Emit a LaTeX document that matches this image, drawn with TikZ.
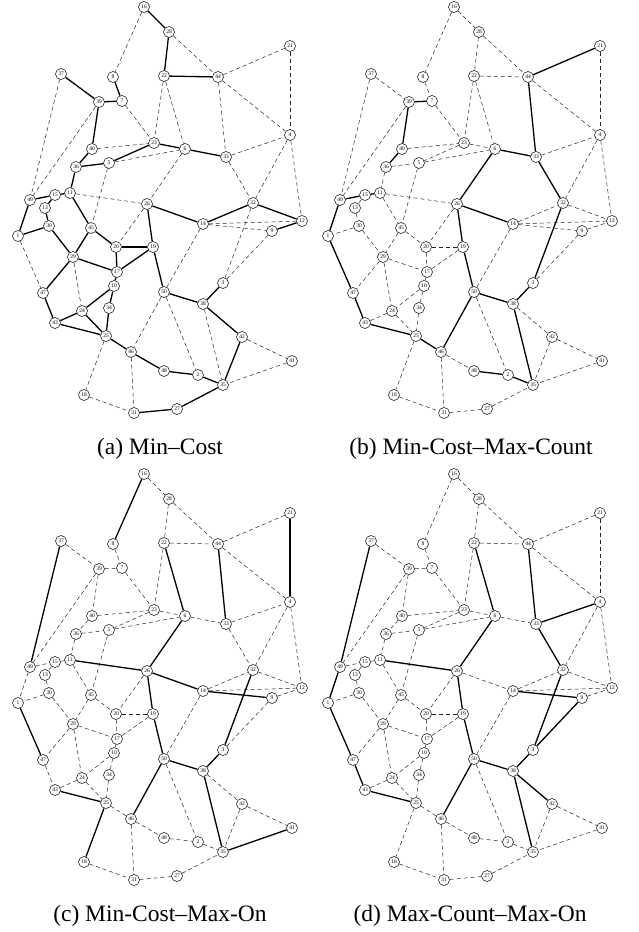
\documentclass[tikz,border=0pt]{standalone}
\usepackage{fontspec}
\setmainfont{Liberation Serif}
\tikzset{
  vtx/.style={circle,draw,line width=0.5pt,minimum size=11pt,inner sep=0pt,fill=white,font=\fontsize{5.5}{6}\selectfont},
  eS/.style={line width=1.3pt,black},
  eD/.style={line width=0.5pt,black!85,dash pattern=on 4pt off 3pt},
  captext/.style={font=\fontsize{23.5}{28}\selectfont,inner sep=0pt}
}
\def\nodelist{16/144/7, 28/169/32, 21/290/46, 37/61/74, 8/113/77, 22/164/76, 44/218/77,
 39/99/102, 7/122/101, 4/290/135, 23/154/143, 40/92/149, 6/185/149, 33/226/157,
 36/76/167, 5/109/163, 11/70/193, 15/55/195, 49/30/200, 13/45/208, 26/147/204,
 32/253/203, 12/302/221, 14/203/224, 9/272/231, 30/49/226, 1/18/236, 45/91/228,
 20/116/247, 19/153/247, 29/73/257, 17/117/272, 3/223/283, 10/114/286, 47/43/293,
 50/164/292, 38/203/304, 34/109/308, 24/82/311, 43/55/323, 25/106/336, 42/242/337,
 46/131/352, 41/292/361, 48/164/371, 2/198/375, 35/223/385, 18/84/395, 31/134/413,
 27/177/409}
\def\edgelist{16/28/S/D/D/D, 16/8/D/D/S/D, 28/22/S/D/D/D, 28/44/D/D/D/D, 22/44/S/D/D/D,
 44/21/D/S/D/D, 21/4/D/D/S/D, 44/4/D/D/D/D, 44/33/D/S/S/S, 22/23/D/D/D/D, 22/6/D/D/S/S,
 37/39/S/D/D/D, 37/49/D/D/S/S, 8/7/S/D/D/D, 39/7/S/S/D/D, 39/40/S/S/D/D, 39/49/D/D/D/D,
 7/23/D/D/D/D, 40/23/D/D/D/D, 23/6/S/D/D/D, 23/5/S/D/D/D, 5/6/D/D/D/D, 6/33/S/S/D/D,
 6/26/D/S/S/S, 33/4/D/D/D/S, 33/32/D/S/D/S, 4/32/D/D/D/D, 4/12/D/D/D/D, 40/36/S/S/D/D,
 36/11/S/D/D/D, 36/5/S/D/D/D, 5/45/D/D/D/D, 49/15/S/S/D/D, 15/11/S/S/D/D, 15/13/S/D/D/D,
 13/30/S/D/D/D, 30/1/S/D/D/D, 49/1/S/S/D/S, 1/47/D/S/S/S, 30/29/S/D/D/D, 11/45/S/D/D/D,
 11/26/D/D/S/S, 45/29/S/D/D/D, 45/20/S/D/D/D, 26/20/D/D/D/D, 26/19/S/S/S/S, 20/19/S/D/D/D,
 20/17/S/D/D/D, 19/17/S/D/D/D, 29/17/S/D/D/D, 29/47/S/D/D/D, 29/24/D/D/D/D, 17/10/S/D/D/D,
 10/24/S/D/D/D, 10/34/S/D/D/D, 34/25/S/D/D/D, 24/25/S/D/D/D, 24/43/S/D/D/D, 47/43/S/S/D/S,
 43/25/S/S/S/S, 26/14/S/S/S/D, 14/32/S/D/D/D, 32/12/S/D/D/D, 14/12/D/D/D/D, 14/9/D/D/S/S,
 9/12/S/D/D/D, 32/3/D/S/S/S, 9/3/D/D/D/S, 14/50/D/D/D/D, 19/50/S/S/S/S, 50/38/S/S/S/S,
 38/3/S/S/S/S, 50/46/D/S/S/S, 50/2/D/D/D/D, 25/46/S/S/D/D, 46/48/S/D/D/D, 48/2/S/S/D/D,
 2/35/S/S/D/D, 38/35/D/S/S/S, 38/42/S/D/D/S, 42/35/S/D/D/D, 42/41/D/D/D/D, 41/35/D/D/S/D,
 25/18/D/D/S/D, 46/31/D/D/D/D, 18/31/D/D/D/D, 31/27/S/D/D/D, 27/35/S/D/D/D}
\newcommand\drawpanel[4]{%
  \begin{scope}[shift={(#2,#3)}]
    \foreach \n/\px/\py in \nodelist {\node[vtx] (#1\n) at (\px,\py) {\n};}
  \end{scope}
  \foreach \u/\v/\fa/\fb/\fc/\fd in \edgelist {%
    \edef\mytemp{\noexpand\draw[e#4] (#1\u) -- (#1\v);}\mytemp}%
}
\begin{document}
\begin{tikzpicture}[x=1pt,y=-1pt]
\useasboundingbox[fill=white] (0,0) rectangle (638,932);
\drawpanel{a}{0}{0}{\fa}
\drawpanel{b}{310}{0}{\fb}
\drawpanel{c}{0}{467}{\fc}
\drawpanel{d}{310}{467}{\fd}
\node[captext] (capa) at (160,449) {(a) Min–Cost};
\node[captext] (capb) at (471,449) {(b) Min-Cost–Max-Count};
\node[captext] (capc) at (160,916) {(c) Min-Cost–Max-On};
\node[captext] (capd) at (470,916) {(d) Max-Count–Max-On};
\end{tikzpicture}
\end{document}
